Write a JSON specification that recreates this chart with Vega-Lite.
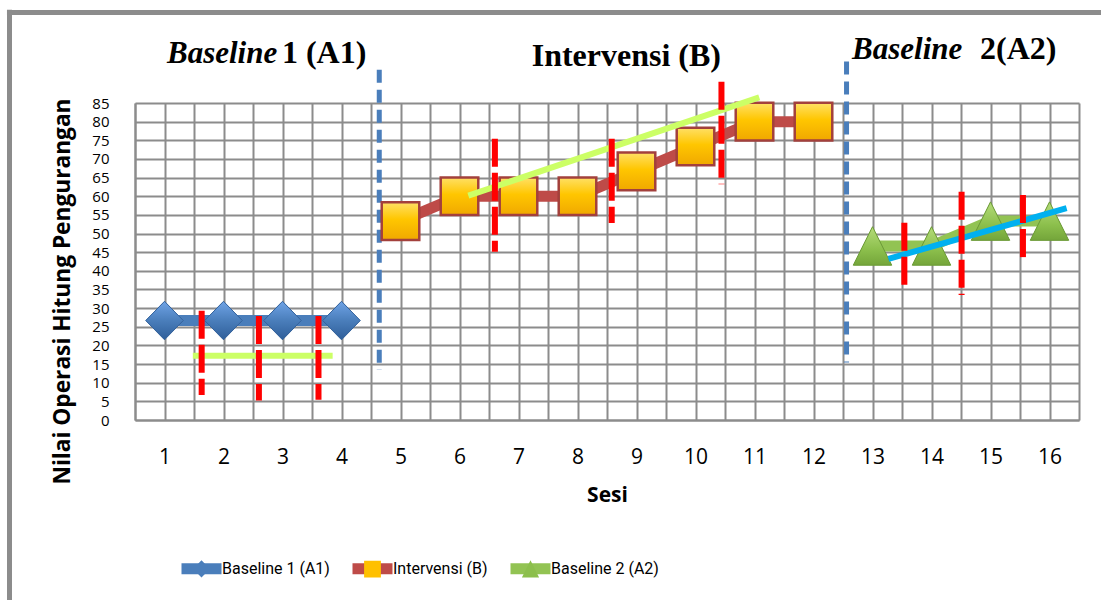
{
  "$schema": "https://vega.github.io/schema/vega-lite/v6.json",
  "width": 944,
  "height": 317,
  "autosize": {"type": "none"},
  "padding": {"left": 135, "top": 103, "right": 22, "bottom": 180},
  "background": "white",
  "config": {"view": {"stroke": null}, "font": "Open Sans"},
  "datasets": {
    "series": [
      {"sesi": 1, "nilai": 26.67, "fase": "Baseline 1 (A1)"},
      {"sesi": 2, "nilai": 26.67, "fase": "Baseline 1 (A1)"},
      {"sesi": 3, "nilai": 26.67, "fase": "Baseline 1 (A1)"},
      {"sesi": 4, "nilai": 26.67, "fase": "Baseline 1 (A1)"},
      {"sesi": 5, "nilai": 53.33, "fase": "Intervensi (B)"},
      {"sesi": 6, "nilai": 60, "fase": "Intervensi (B)"},
      {"sesi": 7, "nilai": 60, "fase": "Intervensi (B)"},
      {"sesi": 8, "nilai": 60, "fase": "Intervensi (B)"},
      {"sesi": 9, "nilai": 66.67, "fase": "Intervensi (B)"},
      {"sesi": 10, "nilai": 73.33, "fase": "Intervensi (B)"},
      {"sesi": 11, "nilai": 80, "fase": "Intervensi (B)"},
      {"sesi": 12, "nilai": 80, "fase": "Intervensi (B)"},
      {"sesi": 13, "nilai": 46.67, "fase": "Baseline 2 (A2)"},
      {"sesi": 14, "nilai": 46.67, "fase": "Baseline 2 (A2)"},
      {"sesi": 15, "nilai": 53.33, "fase": "Baseline 2 (A2)"},
      {"sesi": 16, "nilai": 53.33, "fase": "Baseline 2 (A2)"}
    ],
    "trend": [
      {"fase": "Baseline 1 (A1)", "sesi": 1.48, "sesi2": 3.85, "nilai": 17.2, "nilai2": 17.2},
      {"fase": "Intervensi (B)", "sesi": 6.15, "sesi2": 11.08, "nilai": 60.15, "nilai2": 86.5},
      {"fase": "Baseline 2 (A2)", "sesi": 13.27, "sesi2": 16.29, "nilai": 43.2, "nilai2": 56.8}
    ],
    "stabilitas": [
      {"sesi": 1.63, "nilai": 29.3, "nilai2": 6.7},
      {"sesi": 2.6, "nilai": 27.9, "nilai2": 5.2},
      {"sesi": 3.61, "nilai": 27.9, "nilai2": 5.4},
      {"sesi": 6.6, "nilai": 75.4, "nilai2": 45.1},
      {"sesi": 8.58, "nilai": 75.4, "nilai2": 52.8},
      {"sesi": 10.44, "nilai": 90.7, "nilai2": 63.2},
      {"sesi": 13.54, "nilai": 52.9, "nilai2": 35.3},
      {"sesi": 14.51, "nilai": 61.2, "nilai2": 33.5},
      {"sesi": 15.55, "nilai": 60.3, "nilai2": 42.6}
    ],
    "batasFase": [
      {"sesi": 4.64, "nilai": 93.9, "nilai2": 13.4},
      {"sesi": 12.56, "nilai": 96.1, "nilai2": 15.4}
    ],
    "bingkai": [
      {"sesi": -1.67, "sesi2": 17, "nilai": 109.3, "nilai2": 109.3},
      {"sesi": -1.627, "sesi2": -1.627, "nilai": 110, "nilai2": -48.5}
    ],
    "judulMiring": [
      {"label": "Baseline", "sesi": 1.042, "nilai": 95.73},
      {"label": "Baseline", "sesi": 12.653, "nilai": 96.8}
    ],
    "judulTegak": [
      {"label": "1 (A1)", "sesi": 2.99, "nilai": 95.73},
      {"label": "Intervensi (B)", "sesi": 7.224, "nilai": 94.93},
      {"label": "2(A2)", "sesi": 14.822, "nilai": 96.8}
    ]
  },
  "encoding": {
    "x": {
      "field": "sesi", "type": "quantitative",
      "scale": {"domain": [0.5, 16.5], "nice": false, "zero": false},
      "axis": {
        "values": [0.5, 1, 1.5, 2, 2.5, 3, 3.5, 4, 4.5, 5, 5.5, 6, 6.5, 7, 7.5, 8, 8.5, 9, 9.5, 10, 10.5, 11, 11.5, 12, 12.5, 13, 13.5, 14, 14.5, 15, 15.5, 16, 16.5],
        "labelExpr": "datum.value % 1 === 0 ? format(datum.value, 'd') : ''",
        "grid": true, "gridColor": "#8c8c8c", "gridWidth": 2,
        "domainColor": "#8c8c8c", "domainWidth": 2,
        "ticks": false, "tickSize": 0,
        "labelFont": "Open Sans", "labelFontSize": 21, "labelColor": "#000000",
        "labelPadding": 26, "labelFlush": false, "labelOverlap": false, "labelBound": false,
        "title": "Sesi", "titleFont": "Open Sans", "titleFontSize": 21, "titleFontWeight": "bold",
        "titleColor": "#000000", "titleX": 472, "titleY": 75, "titleBaseline": "middle", "titleAlign": "center"
      }
    },
    "y": {
      "field": "nilai", "type": "quantitative",
      "scale": {"domain": [0, 85], "nice": false, "zero": false},
      "axis": {
        "values": [0, 5, 10, 15, 20, 25, 30, 35, 40, 45, 50, 55, 60, 65, 70, 75, 80, 85],
        "format": "d",
        "grid": true, "gridColor": "#8c8c8c", "gridWidth": 2,
        "domainColor": "#8c8c8c", "domainWidth": 2,
        "ticks": false, "tickSize": 0,
        "labelFont": "Open Sans", "labelFontSize": 15, "labelColor": "#000000",
        "labelPadding": 26, "labelFlush": false, "labelOverlap": false, "labelBound": false,
        "title": "Nilai Operasi Hitung Pengurangan", "titleFont": "Open Sans", "titleFontSize": 22.7,
        "titleFontWeight": "bold", "titleColor": "#000000",
        "titleAngle": 270, "titleX": -73, "titleY": 188, "titleAlign": "center", "titleBaseline": "middle"
      }
    }
  },
  "layer": [
    {
      "data": {"name": "bingkai"},
      "mark": {"type": "rule", "color": "#8c8c8c", "strokeWidth": 5},
      "encoding": {"x2": {"field": "sesi2"}, "y2": {"field": "nilai2"}}
    },
    {
      "data": {"name": "series"},
      "mark": {"type": "line", "strokeWidth": 11, "strokeCap": "butt"},
      "encoding": {
        "stroke": {
          "field": "fase", "type": "nominal",
          "scale": {"domain": ["Baseline 1 (A1)", "Intervensi (B)", "Baseline 2 (A2)"], "range": ["#4a7ebb", "#be4b48", "#92c353"]},
          "legend": {
            "title": null, "orient": "none", "legendX": 41, "legendY": 440, "direction": "horizontal",
            "symbolType": "stroke", "symbolSize": 1600, "symbolStrokeWidth": 11,
            "labelFont": "Roboto", "labelFontSize": 16, "labelColor": "#000000",
            "labelOffset": -5, "columnPadding": 0, "padding": 0, "labelLimit": 300
          }
        }
      }
    },
    {
      "data": {"name": "batasFase"},
      "mark": {"type": "rule", "color": "#4a7ebb", "strokeWidth": 5, "strokeDash": [13, 7]},
      "encoding": {"y2": {"field": "nilai2"}}
    },
    {
      "data": {"name": "series"},
      "mark": {"type": "point", "filled": true, "opacity": 1, "size": 8000, "strokeWidth": 11},
      "encoding": {
        "fill": {
          "field": "fase", "type": "nominal", "sort": null,
          "scale": {"range": ["#4a7ebb", "#ffc000", "#8cbf4c"]},
          "legend": {
            "title": null, "orient": "none", "legendX": 41, "legendY": 440, "direction": "horizontal",
            "symbolSize": 1600, "symbolStrokeWidth": 11, "symbolStrokeColor": "transparent",
            "labelFont": "Roboto", "labelFontSize": 16, "labelColor": "rgba(0,0,0,0)",
            "labelOffset": -5, "columnPadding": 0, "padding": 0, "labelLimit": 300
          }
        },
        "shape": {
          "field": "fase", "type": "nominal", "sort": null,
          "scale": {"range": [
            "M-1,0L1,0M-0.42,0L0,-0.43L0.42,0L0,0.43Z",
            "M-1,0L1,0M-0.42,-0.42L0.42,-0.42L0.42,0.42L-0.42,0.42Z",
            "M-1,0L1,0M0,-0.43L0.43,0.43L-0.43,0.43Z"
          ]},
          "legend": {
            "title": null, "orient": "none", "legendX": 41, "legendY": 440, "direction": "horizontal",
            "symbolSize": 1600, "symbolStrokeWidth": 11, "symbolStrokeColor": "transparent",
            "labelFont": "Roboto", "labelFontSize": 16, "labelColor": "rgba(0,0,0,0)",
            "labelOffset": -5, "columnPadding": 0, "padding": 0, "labelLimit": 300
          }
        }
      }
    },
    {
      "data": {"name": "series"},
      "transform": [{"filter": "datum.fase === 'Baseline 1 (A1)'"}],
      "mark": {
        "type": "point", "filled": true, "opacity": 1, "size": 8000, "strokeWidth": 1, "stroke": "#35639c",
        "shape": "M-0.42,0L0,-0.43L0.42,0L0,0.43Z",
        "fill": {"gradient": "linear", "x1": 0, "y1": 0, "x2": 0, "y2": 1,
                 "stops": [{"offset": 0, "color": "#6fa3e6"}, {"offset": 0.5, "color": "#4a7ebb"}, {"offset": 1, "color": "#2f5e99"}]}
      }
    },
    {
      "data": {"name": "series"},
      "transform": [{"filter": "datum.fase === 'Intervensi (B)'"}],
      "mark": {
        "type": "point", "filled": true, "opacity": 1, "size": 8000, "strokeWidth": 2.5, "stroke": "#a3403c",
        "shape": "M-0.42,-0.42L0.42,-0.42L0.42,0.42L-0.42,0.42Z",
        "fill": {"gradient": "linear", "x1": 0, "y1": 0, "x2": 0, "y2": 1,
                 "stops": [{"offset": 0, "color": "#ffe066"}, {"offset": 0.45, "color": "#ffc600"}, {"offset": 1, "color": "#f0a800"}]}
      }
    },
    {
      "data": {"name": "series"},
      "transform": [{"filter": "datum.fase === 'Baseline 2 (A2)'"}],
      "mark": {
        "type": "point", "filled": true, "opacity": 1, "size": 8000, "strokeWidth": 1, "stroke": "#6c9a38",
        "shape": "M0,-0.43L0.43,0.43L-0.43,0.43Z",
        "fill": {"gradient": "linear", "x1": 0, "y1": 0, "x2": 0, "y2": 1,
                 "stops": [{"offset": 0, "color": "#b5dc7a"}, {"offset": 0.6, "color": "#8cbf4c"}, {"offset": 1, "color": "#74a53a"}]}
      }
    },
    {
      "data": {"name": "trend"},
      "transform": [{"filter": "datum.fase !== 'Baseline 2 (A2)'"}],
      "mark": {"type": "rule", "color": "#ccff66", "strokeWidth": 6},
      "encoding": {"x2": {"field": "sesi2"}, "y2": {"field": "nilai2"}}
    },
    {
      "data": {"name": "trend"},
      "transform": [{"filter": "datum.fase === 'Baseline 2 (A2)'"}],
      "mark": {"type": "rule", "color": "#00b0f0", "strokeWidth": 6},
      "encoding": {"x2": {"field": "sesi2"}, "y2": {"field": "nilai2"}}
    },
    {
      "data": {"name": "stabilitas"},
      "mark": {"type": "rule", "color": "#ff0000", "strokeWidth": 6, "strokeDash": [28, 6]},
      "encoding": {"y2": {"field": "nilai2"}}
    },
    {
      "data": {"name": "judulMiring"},
      "mark": {"type": "text", "font": "Liberation Serif", "fontSize": 31, "fontWeight": "bold", "fontStyle": "italic", "align": "left", "baseline": "alphabetic", "color": "#000000"},
      "encoding": {"text": {"field": "label"}}
    },
    {
      "data": {"name": "judulTegak"},
      "mark": {"type": "text", "font": "Liberation Serif", "fontSize": 32, "fontWeight": "bold", "align": "left", "baseline": "alphabetic", "color": "#000000"},
      "encoding": {"text": {"field": "label"}}
    }
  ]
}
